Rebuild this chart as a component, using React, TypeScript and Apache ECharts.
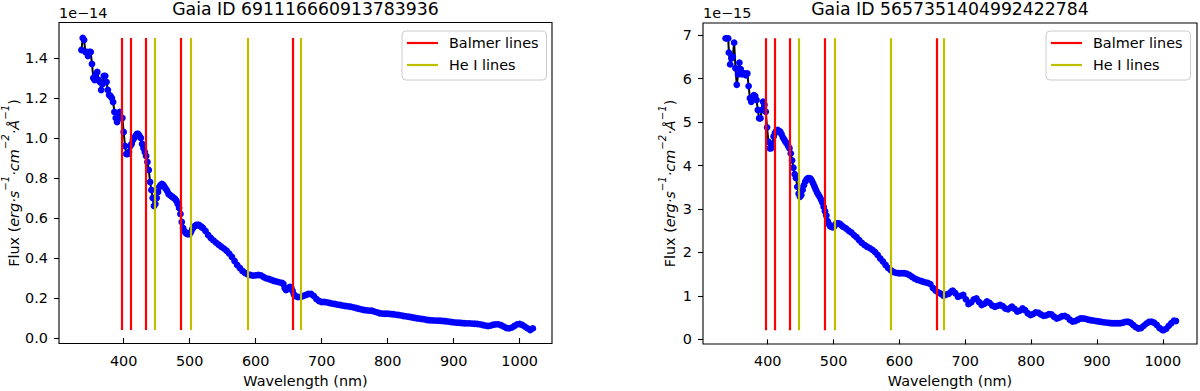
import React, { useEffect, useRef } from "react";
import * as echarts from "echarts";

// ---------- data ----------
const titleLeft = "Gaia ID 691116660913783936";
const titleRight = "Gaia ID 5657351404992422784";
const offsetLeft = "1e\u221214";
const offsetRight = "1e\u221215";
const xLabel = "Wavelength (nm)";
const legendNames = ["Balmer lines", "He I lines"];

const balmerLines = [397.0, 410.2, 434.0, 486.1, 656.3];
const heLines = [447.1, 501.6, 587.6, 667.8];

const xTicks = [400, 500, 600, 700, 800, 900, 1000];
const yTicksLeft = [0, 0.2, 0.4, 0.6, 0.8, 1.0, 1.2, 1.4];
const yTicksRight = [0, 1, 2, 3, 4, 5, 6, 7];

// left star, flux in units of 1e-14
const leftWave = [
  336, 338, 340, 342, 344, 346, 348, 350, 352, 354, 356, 358, 360, 362, 364, 366, 368, 370, 372, 374,
  376, 378, 380, 382, 384, 386, 388, 390, 392, 394, 396, 398, 400, 402, 404, 406, 408, 410, 412, 414,
  416, 418, 420, 422, 424, 426, 428, 430, 432, 434, 436, 438, 440, 442, 444, 446, 448, 450, 452, 454,
  456, 458, 460, 462, 464, 466, 468, 470, 472, 474, 476, 478, 480, 482, 484, 486, 488, 490, 492, 494,
  496, 498, 500, 502, 504, 506, 508, 510, 512, 514, 516, 518, 520, 524, 528, 532, 536, 540, 544, 548,
  552, 556, 560, 564, 568, 572, 576, 580, 584, 588, 592, 596, 600, 604, 608, 612, 616, 620, 624, 628,
  632, 636, 640, 642, 644, 646, 648, 650, 652, 654, 656, 658, 660, 664, 668, 672, 676, 680, 684, 688,
  692, 696, 700, 704, 708, 712, 716, 720, 724, 728, 732, 736, 740, 744, 748, 752, 756, 760, 764, 768,
  772, 776, 780, 784, 788, 792, 796, 800, 804, 808, 812, 816, 820, 824, 828, 832, 836, 840, 844, 848,
  852, 856, 860, 864, 868, 872, 876, 880, 884, 888, 892, 896, 900, 904, 908, 912, 916, 920, 924, 928,
  932, 936, 940, 944, 948, 952, 956, 960, 964, 968, 972, 976, 980, 984, 988, 992, 996, 1000, 1004, 1008,
  1012, 1016, 1020,
];
const leftFlux = [
  1.44, 1.5, 1.49, 1.43, 1.43, 1.41, 1.43, 1.43, 1.37, 1.3, 1.29, 1.32, 1.33, 1.29, 1.28, 1.24, 1.27, 1.31, 1.31, 1.28,
  1.24, 1.215, 1.21, 1.2, 1.18, 1.13, 1.1, 1.08, 1.11, 1.13, 1.1, 1.1, 1.03, 0.96, 0.92, 0.92, 0.93, 0.96, 0.97, 0.99,
  1.0, 1.01, 1.02, 1.02, 1.01, 1.0, 0.97, 0.95, 0.93, 0.91, 0.88, 0.84, 0.78, 0.74, 0.7, 0.66, 0.67, 0.7, 0.73, 0.755,
  0.765, 0.77, 0.765, 0.755, 0.745, 0.735, 0.72, 0.715, 0.71, 0.705, 0.7, 0.695, 0.685, 0.67, 0.65, 0.62, 0.58, 0.55, 0.535, 0.525,
  0.52, 0.52, 0.52, 0.53, 0.545, 0.555, 0.56, 0.565, 0.565, 0.565, 0.56, 0.555, 0.55, 0.535, 0.515, 0.5, 0.488, 0.477, 0.466, 0.456,
  0.447, 0.436, 0.422, 0.405, 0.385, 0.365, 0.35, 0.335, 0.325, 0.318, 0.315, 0.312, 0.313, 0.315, 0.313, 0.305, 0.298, 0.295, 0.29, 0.285,
  0.282, 0.278, 0.275, 0.27, 0.25, 0.24, 0.245, 0.25, 0.255, 0.25, 0.235, 0.218, 0.21, 0.205, 0.205, 0.21, 0.215, 0.22, 0.22, 0.21,
  0.195, 0.185, 0.18, 0.18, 0.178, 0.175, 0.172, 0.17, 0.167, 0.165, 0.162, 0.16, 0.158, 0.156, 0.153, 0.15, 0.146, 0.143, 0.14, 0.138,
  0.137, 0.136, 0.132, 0.128, 0.124, 0.122, 0.121, 0.121, 0.12, 0.119, 0.117, 0.115, 0.113, 0.11, 0.108, 0.106, 0.104, 0.101, 0.099, 0.097,
  0.095, 0.093, 0.09, 0.089, 0.088, 0.087, 0.087, 0.086, 0.085, 0.084, 0.082, 0.08, 0.078, 0.077, 0.076, 0.075, 0.074, 0.073, 0.073, 0.072,
  0.071, 0.07, 0.068, 0.065, 0.062, 0.06, 0.062, 0.066, 0.068, 0.068, 0.064, 0.057, 0.05, 0.048, 0.052, 0.06, 0.068, 0.07, 0.065, 0.057,
  0.048, 0.04, 0.048,
];

// right star, flux in units of 1e-15
const rightWave = [
  336, 338, 340, 341, 343, 345, 347, 349, 351, 353, 355, 357, 359, 361, 363, 365, 367, 369, 371, 373,
  375, 377, 379, 381, 383, 385, 387, 389, 391, 393, 395, 397, 399, 401, 403, 405, 407, 409, 411, 413,
  415, 417, 419, 421, 423, 425, 427, 429, 431, 433, 435, 437, 439, 441, 443, 445, 447, 449, 451, 453,
  455, 457, 459, 461, 463, 465, 467, 469, 471, 473, 475, 477, 479, 481, 483, 485, 487, 489, 491, 493,
  495, 497, 499, 501, 503, 505, 507, 509, 511, 513, 515, 519, 523, 527, 531, 535, 539, 543, 547, 551,
  555, 559, 563, 567, 571, 575, 579, 583, 587, 591, 595, 599, 603, 607, 611, 615, 619, 623, 627, 631,
  635, 639, 643, 647, 651, 655, 659, 663, 667, 671, 675, 679, 681, 685, 689, 693, 697, 701, 705, 709,
  713, 717, 721, 725, 729, 733, 737, 741, 745, 749, 753, 757, 761, 765, 769, 771, 775, 779, 783, 787,
  791, 795, 799, 803, 807, 811, 815, 819, 823, 827, 831, 835, 839, 843, 847, 851, 855, 859, 863, 867,
  871, 875, 879, 883, 887, 891, 895, 899, 903, 907, 911, 915, 919, 923, 927, 931, 935, 939, 943, 947,
  951, 955, 959, 963, 967, 971, 975, 979, 983, 987, 991, 995, 999, 1001, 1005, 1009, 1013, 1017, 1020,
];
const rightFlux = [
  6.93, 6.93, 6.93, 6.6, 6.33, 6.47, 6.51, 6.83, 6.24, 5.86, 6.1, 6.37, 6.22, 6.1, 6.12, 6.12, 6.08, 6.12, 5.83, 5.55,
  5.47, 5.55, 5.62, 5.6, 5.51, 5.28, 5.09, 5.09, 5.28, 5.47, 5.4, 5.24, 4.88, 4.55, 4.4, 4.4, 4.5, 4.67, 4.75, 4.8,
  4.82, 4.8, 4.78, 4.72, 4.65, 4.6, 4.55, 4.51, 4.45, 4.4, 4.28, 4.12, 3.95, 3.8, 3.71, 3.51, 3.35, 3.28, 3.32, 3.44,
  3.55, 3.63, 3.68, 3.71, 3.71, 3.7, 3.65, 3.59, 3.52, 3.45, 3.38, 3.33, 3.28, 3.22, 3.15, 3.05, 2.95, 2.85, 2.72, 2.65,
  2.6, 2.59, 2.58, 2.6, 2.65, 2.67, 2.67, 2.66, 2.64, 2.61, 2.59, 2.55, 2.5, 2.46, 2.4, 2.35, 2.28, 2.22, 2.17, 2.13,
  2.1, 2.06, 2.01, 1.94, 1.86, 1.79, 1.71, 1.64, 1.59, 1.55, 1.53, 1.52, 1.52, 1.52, 1.51, 1.48, 1.44, 1.4, 1.37, 1.35,
  1.33, 1.31, 1.3, 1.27, 1.18, 1.12, 1.08, 1.05, 1.0, 1.03, 1.05, 1.1, 1.12, 1.06, 0.98, 1.0, 1.02, 0.92, 0.81, 0.85,
  0.92, 0.94, 0.86, 0.79, 0.82, 0.87, 0.84, 0.78, 0.75, 0.77, 0.79, 0.76, 0.71, 0.69, 0.73, 0.75, 0.7, 0.64, 0.66, 0.71,
  0.67, 0.6, 0.56, 0.58, 0.62, 0.61, 0.57, 0.54, 0.55, 0.58, 0.57, 0.52, 0.48, 0.5, 0.53, 0.54, 0.51, 0.45, 0.41, 0.42,
  0.45, 0.48, 0.48, 0.47, 0.45, 0.44, 0.43, 0.42, 0.41, 0.4, 0.39, 0.385, 0.375, 0.37, 0.37, 0.37, 0.37, 0.38, 0.4, 0.405,
  0.38, 0.33, 0.28, 0.25, 0.26, 0.31, 0.36, 0.4, 0.405, 0.38, 0.33, 0.26, 0.22, 0.21, 0.24, 0.31, 0.37, 0.43, 0.42,
];

// ---------- styling ----------
const FONT = "DejaVu Sans";
const FS = 14.4;
const BLUE = "#0000ff";
const RED = "#ff0000";
const YEL = "#bfbf00";

const panels = [
  {
    wave: leftWave, flux: leftFlux, title: titleLeft, offset: offsetLeft, yTicks: yTicksLeft, dec: 1,
    left: 59, width: 493, top: 22.5, height: 321, xMin: 302, xMax: 1049, yMin: -0.0275, yMax: 1.5775,
    legendLeft: 402, yLabelX: 10.5,
  },
  {
    wave: rightWave, flux: rightFlux, title: titleRight, offset: offsetRight, yTicks: yTicksRight, dec: 0,
    left: 703, width: 494, top: 23, height: 321, xMin: 301.7, xMax: 1052, yMin: -0.108, yMax: 7.283,
    legendLeft: 1046, yLabelX: 667,
  },
];

const yLabelText =
  "{n|Flux (}{i|erg\u00b7s}{s|\u22121}{i|\u00b7cm}{s|\u22122}{i|\u00b7\u00c5}{s|\u22121}{n|)}";

export default function App() {
  const ref = useRef<HTMLDivElement>(null);
  useEffect(() => {
    if (!ref.current) return;
    const chart = echarts.init(ref.current, undefined, { renderer: "svg" });

    const grid: any[] = [];
    const xAxis: any[] = [];
    const yAxis: any[] = [];
    const series: any[] = [];
    const legend: any[] = [];
    const graphic: any[] = [];

    panels.forEach((p, i) => {
      grid.push({
        left: p.left, top: p.top, width: p.width, height: p.height,
        show: true, borderColor: "#000", borderWidth: 1.1, backgroundColor: "transparent",
      });
      xAxis.push({
        type: "value", gridIndex: i, min: p.xMin, max: p.xMax,
        axisLine: { show: false },
        splitLine: { show: false },
        axisTick: { show: true, inside: false, length: 5, customValues: xTicks, lineStyle: { color: "#000", width: 1.1 } },
        axisLabel: {
          customValues: xTicks, margin: 10, color: "#000", fontFamily: FONT, fontSize: FS,
          formatter: (v: number) => String(v),
        },
      });
      yAxis.push({
        type: "value", gridIndex: i, min: p.yMin, max: p.yMax,
        axisLine: { show: false },
        splitLine: { show: false },
        axisTick: { show: true, inside: false, length: 5, customValues: p.yTicks, lineStyle: { color: "#000", width: 1.1 } },
        axisLabel: {
          customValues: p.yTicks, margin: 11, color: "#000", fontFamily: FONT, fontSize: FS,
          formatter: (v: number) => v.toFixed(p.dec),
        },
      });
      const pts = p.wave.map((w, k) => [w, p.flux[k]]);
      const lo = Math.min(...p.flux);
      const hi = Math.max(...p.flux);
      series.push({
        type: "line", name: "spectrum" + i, xAxisIndex: i, yAxisIndex: i, data: pts,
        symbol: "circle", symbolSize: 6.8, showSymbol: true, showAllSymbol: true,
        itemStyle: { color: BLUE, borderWidth: 0 },
        lineStyle: { color: "#000", width: 2 },
        silent: true, z: 2,
      });
      const mk = (xs: number[]) =>
        xs.map((x) => [{ coord: [x, lo] }, { coord: [x, hi] }]);
      series.push({
        type: "line", name: legendNames[0], xAxisIndex: i, yAxisIndex: i, data: [],
        itemStyle: { color: RED }, lineStyle: { color: RED, width: 2.2 },
        markLine: {
          silent: true, symbol: ["none", "none"], label: { show: false },
          lineStyle: { color: RED, width: 2.2, type: "solid" }, data: mk(balmerLines),
          emphasis: { disabled: true },
        },
        z: 3,
      });
      series.push({
        type: "line", name: legendNames[1], xAxisIndex: i, yAxisIndex: i, data: [],
        itemStyle: { color: YEL }, lineStyle: { color: YEL, width: 2.2 },
        markLine: {
          silent: true, symbol: ["none", "none"], label: { show: false },
          lineStyle: { color: YEL, width: 2.2, type: "solid" }, data: mk(heLines),
          emphasis: { disabled: true },
        },
        z: 3,
      });
      legend.push({
        data: legendNames, left: p.legendLeft, top: 31, orient: "vertical",
        icon: "rect", itemWidth: 31, itemHeight: 2.2, itemGap: 8,
        padding: [5, 8, 8, 5], selectedMode: false,
        backgroundColor: "rgba(255,255,255,0.8)", borderColor: "#cccccc", borderWidth: 1, borderRadius: 4,
        textStyle: { fontFamily: FONT, fontSize: FS, color: "#000", padding: [0, 0, 0, 6], lineHeight: 14 },
      });
      const cx = p.left + p.width / 2;
      graphic.push({
        type: "text", x: cx, y: 9,
        style: {
          text: p.title, fontFamily: FONT, fontSize: 17.3, fill: "#000",
          textAlign: "center", textVerticalAlign: "middle",
        },
      });
      graphic.push({
        type: "text", x: p.left, y: 13,
        style: {
          text: p.offset, fontFamily: FONT, fontSize: FS, fill: "#000",
          textAlign: "left", textVerticalAlign: "middle",
        },
      });
      graphic.push({
        type: "text", x: cx, y: 381,
        style: {
          text: xLabel, fontFamily: FONT, fontSize: FS, fill: "#000",
          textAlign: "center", textVerticalAlign: "middle",
        },
      });
      graphic.push({
        type: "text", x: p.yLabelX, y: p.top + p.height / 2, rotation: Math.PI / 2,
        style: {
          text: yLabelText,
          textAlign: "center", textVerticalAlign: "middle", fill: "#000",
          fontFamily: FONT, fontSize: FS,
          rich: {
            n: { fontFamily: FONT, fontSize: FS, fill: "#000", lineHeight: 20, verticalAlign: "bottom" },
            i: { fontFamily: FONT, fontSize: FS, fontStyle: "italic", fill: "#000", lineHeight: 20, verticalAlign: "bottom" },
            s: { fontFamily: FONT, fontSize: 10.2, fontStyle: "italic", fill: "#000", lineHeight: 12, verticalAlign: "top" },
          },
        },
      });
    });

    chart.setOption({
      animation: false,
      backgroundColor: "#fff",
      grid, xAxis, yAxis, series, legend, graphic,
    });
    return () => chart.dispose();
  }, []);

  return (
    <div
      ref={ref}
      style={{ position: "absolute", left: 0, top: 0, width: 1200, height: 391, background: "#fff" }}
    />
  );
}
